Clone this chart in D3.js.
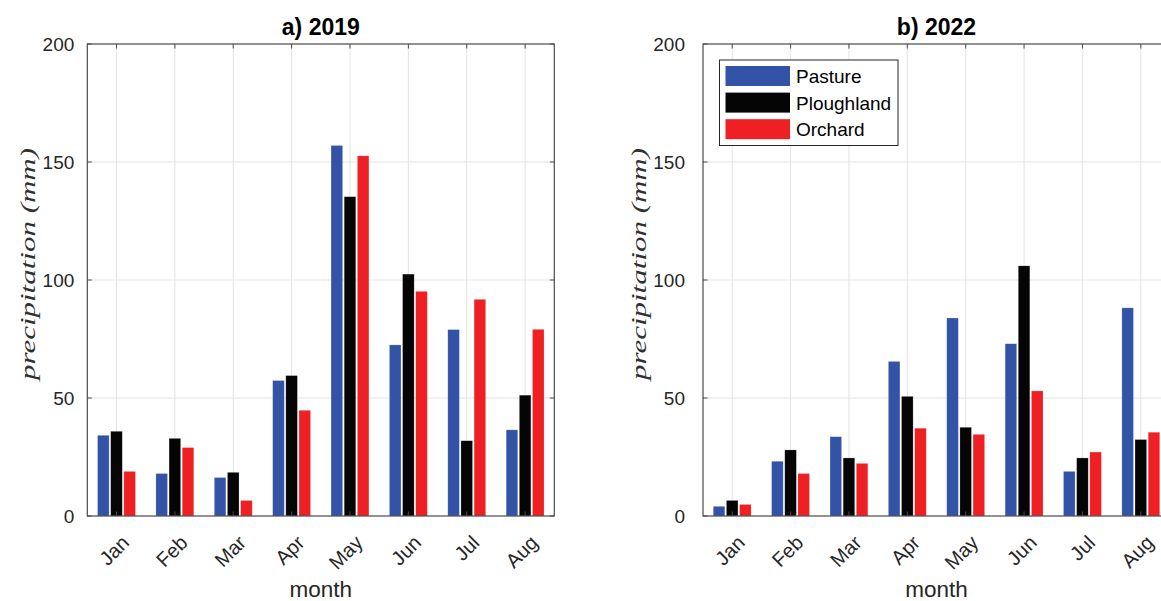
<!DOCTYPE html>
<html>
<head>
<meta charset="utf-8">
<script src="https://cdn.jsdelivr.net/npm/d3@7"></script>
<style>
  body { margin: 0; background: #fff; }
  text { font-family: "Liberation Sans", Arial, sans-serif; }
</style>
</head>
<body>
<script>
// chart data
const months = ['Jan', 'Feb', 'Mar', 'Apr', 'May', 'Jun', 'Jul', 'Aug'];
const landUse = ['Pasture', 'Ploughland', 'Orchard'];
const yTicks = [0, 50, 100, 150, 200];

const pasture2019 = [34.2, 18.0, 16.3, 57.4, 157.0, 72.5, 79.0, 36.5];
const plough2019 = [35.9, 32.9, 18.5, 59.5, 135.3, 102.5, 31.9, 51.2];
const orchard2019 = [18.9, 29.0, 6.6, 44.8, 152.6, 95.2, 91.8, 79.1];

const pasture2022 = [4.1, 23.2, 33.6, 65.5, 83.9, 73.0, 18.9, 88.2];
const plough2022 = [6.6, 28.0, 24.6, 50.7, 37.6, 106.0, 24.6, 32.4];
const orchard2022 = [4.9, 18.0, 22.3, 37.2, 34.6, 53.0, 27.1, 35.5];

const colors = ['#3353a6', '#050505', '#ee2024'];

const width = 1161;
const height = 601;

const svg = d3.select('body')
  .append('svg')
  .attr('width', width)
  .attr('height', height);

// one panel of grouped bars
function drawPanel(opts) {
  const w = 467, h = 472;
  const g = svg.append('g').attr('transform', `translate(${opts.left},44)`);

  const x0 = d3.scaleBand().domain(months).range([0, w]).padding(0);
  const bw = x0.bandwidth();
  const x1 = d3.scaleBand().domain(landUse)
    .range([bw * 0.1755, bw * 0.8245])
    .paddingInner(0.12).paddingOuter(0);
  const y = d3.scaleLinear().domain([0, 200]).range([h, 0]);

  // grid
  g.append('g').selectAll('line').data(yTicks.slice(1, -1)).join('line')
    .attr('x1', 0).attr('x2', w)
    .attr('y1', d => y(d)).attr('y2', d => y(d))
    .attr('stroke', '#e3e3e3').attr('stroke-width', 1);
  g.append('g').selectAll('line').data(months).join('line')
    .attr('x1', d => x0(d) + bw / 2).attr('x2', d => x0(d) + bw / 2)
    .attr('y1', 0).attr('y2', h)
    .attr('stroke', '#e3e3e3').attr('stroke-width', 1);

  // bars
  const rows = months.map((m, i) => ({
    month: m,
    vals: opts.series.map((s, k) => ({ key: landUse[k], v: s[i], c: colors[k] }))
  }));
  g.append('g').selectAll('g').data(rows).join('g')
    .attr('transform', d => `translate(${x0(d.month)},0)`)
    .selectAll('rect').data(d => d.vals).join('rect')
    .attr('x', d => x1(d.key))
    .attr('width', x1.bandwidth())
    .attr('y', d => y(d.v))
    .attr('height', d => h - y(d.v))
    .attr('fill', d => d.c)
    .attr('stroke', 'rgba(255,255,255,0.35)')
    .attr('stroke-width', 0.6);

  // ticks (inward)
  const tk = g.append('g').attr('stroke', '#4a4a4a').attr('stroke-width', 1);
  months.forEach(m => {
    const cx = x0(m) + bw / 2;
    tk.append('line').attr('x1', cx).attr('x2', cx).attr('y1', h).attr('y2', h - 4.5);
    tk.append('line').attr('x1', cx).attr('x2', cx).attr('y1', 0).attr('y2', 4.5);
  });
  yTicks.forEach(t => {
    tk.append('line').attr('x1', 0).attr('x2', 4.5).attr('y1', y(t)).attr('y2', y(t));
    tk.append('line').attr('x1', w).attr('x2', w - 4.5).attr('y1', y(t)).attr('y2', y(t));
  });

  // box
  g.append('rect')
    .attr('x', 0).attr('y', 0).attr('width', w).attr('height', h)
    .attr('fill', 'none').attr('stroke', '#4a4a4a').attr('stroke-width', 1.2);

  // y tick labels
  g.append('g').selectAll('text').data(yTicks).join('text')
    .attr('x', -opts.tickGap).attr('y', d => y(d))
    .attr('dy', '0.35em')
    .attr('text-anchor', 'end')
    .attr('font-size', 19)
    .attr('fill', '#262626')
    .text(d => d);

  // x tick labels
  g.append('g').selectAll('text').data(months).join('text')
    .attr('transform', d => `translate(${x0(d) + bw / 2 + 14},${h + 28}) rotate(-45)`)
    .attr('text-anchor', 'end')
    .attr('font-size', 20)
    .attr('fill', '#262626')
    .text(d => d);

  // title
  g.append('text')
    .attr('x', w / 2).attr('y', -9)
    .attr('text-anchor', 'middle')
    .attr('font-size', 23).attr('font-weight', 'bold')
    .attr('fill', '#000')
    .text(opts.title);

  // x label
  g.append('text')
    .attr('x', w / 2).attr('y', h + 81)
    .attr('text-anchor', 'middle')
    .attr('font-size', 22.5)
    .attr('fill', '#262626')
    .text('month');

  // y label
  g.append('text')
    .attr('transform', `translate(${-opts.labelGap},${220}) rotate(-90)`)
    .attr('text-anchor', 'middle')
    .attr('font-size', 21)
    .attr('font-style', 'italic')
    .attr('fill', '#303030')
    .style('font-family', '"Liberation Serif", "DejaVu Serif", serif')
    .attr('textLength', 232)
    .attr('lengthAdjust', 'spacingAndGlyphs')
    .text('precipitation (mm)');

  return g;
}

drawPanel({ left: 87.3, title: 'a) 2019', tickGap: 13, labelGap: 52,
  series: [pasture2019, plough2019, orchard2019] });
const right = drawPanel({ left: 703, title: 'b) 2022', tickGap: 18, labelGap: 57,
  series: [pasture2022, plough2022, orchard2022] });

// legend in right panel
const lg = right.append('g').attr('transform', 'translate(16.5,16)');
lg.append('rect')
  .attr('width', 178.5).attr('height', 85.5)
  .attr('fill', '#fff').attr('stroke', '#262626').attr('stroke-width', 1);
const item = lg.selectAll('g').data(landUse).join('g')
  .attr('transform', (d, i) => `translate(6,${6 + i * 26.6})`);
item.append('rect')
  .attr('width', 64.5).attr('height', 20)
  .attr('fill', (d, i) => colors[i]);
item.append('text')
  .attr('x', 70.5).attr('y', 17)
  .attr('font-size', 19)
  .attr('fill', '#000')
  .text(d => d);
</script>
</body>
</html>
